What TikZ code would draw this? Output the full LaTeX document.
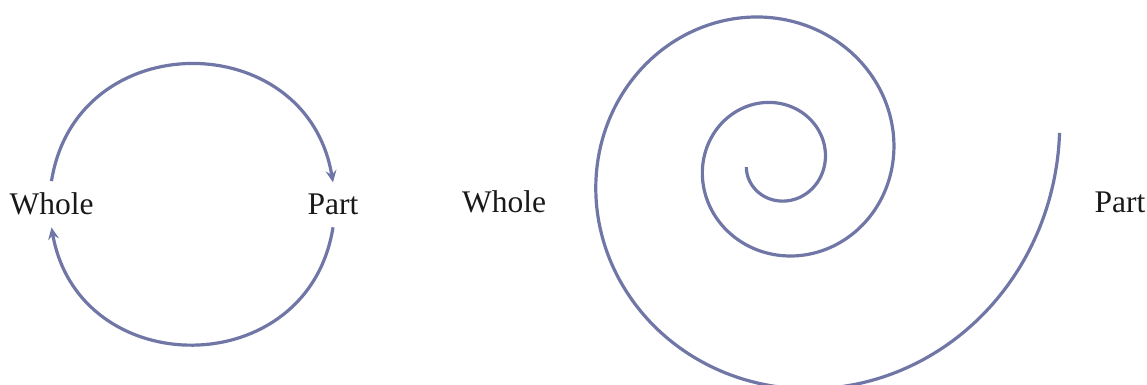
\documentclass[tikz,border=0pt]{standalone}
\usepackage{fontspec}
\setmainfont{Liberation Serif}
\usetikzlibrary{arrows.meta,positioning}
\definecolor{loopblue}{RGB}{112,118,166}

\begin{document}
\begin{tikzpicture}[x=0.5pt,y=0.5pt,
    every node/.style={font=\fontsize{15.75}{18}\selectfont,text=black!90,inner sep=0pt,outer sep=6pt},
    flow/.style={draw=loopblue,line width=1.6pt},
    cyclearrow/.style={-{Stealth[length=6pt,width=5.5pt,inset=2.2pt]}}]
    \useasboundingbox (0,0) rectangle (1147,385);
    % Whole-part cycle
    \node[anchor=base] (cyclewhole) at (51.5,170) {Whole};
    \node[anchor=base] (cyclepart) at (333,170) {Part};
    \draw[flow,cyclearrow] (cyclewhole.north) to[out=81,in=99.5,looseness=1.44] (cyclepart.north);
    \draw[flow,cyclearrow] (cyclepart.south) to[out=-99,in=-80,looseness=1.44] (cyclewhole.south);
    % Spiral
    \node[anchor=base] (spiralwhole) at (504,172) {Whole};
    \node[anchor=base] (spiralpart) at (1120,172) {Part};
    \begin{scope}[shift={(777.3,222.5)}]
      \draw[flow] plot[domain=-171.5:726,samples=360,smooth]
        ({47.7*exp(0.002461*\x)*cos(\x)},{47.7*exp(0.002461*\x)*sin(\x)});
    \end{scope}
\end{tikzpicture}
\end{document}
